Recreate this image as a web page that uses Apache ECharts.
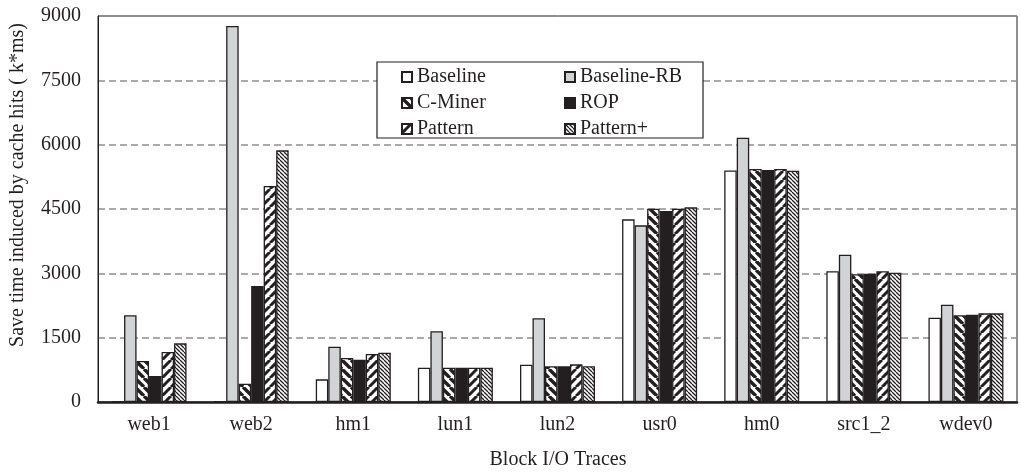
<!DOCTYPE html>
<html>
<head>
<meta charset="utf-8">
<script src="https://cdn.jsdelivr.net/npm/echarts@6/dist/echarts.min.js"></script>
<style>
html,body{margin:0;padding:0;background:#fff;}
#chart{width:1021px;height:473px;}
</style>
</head>
<body>
<div id="chart"></div>
<script>
const categories = ['web1', 'web2', 'hm1', 'lun1', 'lun2', 'usr0', 'hm0', 'src1_2', 'wdev0'];
const baseline    = [15, 15, 528, 800, 870, 4259, 5400, 3047, 1966];
const baselineRB  = [2021, 8767, 1290, 1648, 1951, 4119, 6162, 3435, 2269];
const cMiner      = [956, 427, 1026, 800, 832, 4508, 5431, 2977, 2021];
const rop         = [606, 2705, 987, 800, 832, 4453, 5408, 2992, 2036];
const patternS    = [1166, 5036, 1119, 800, 878, 4508, 5431, 3047, 2067];
const patternPlus = [1368, 5868, 1150, 800, 832, 4539, 5392, 3016, 2067];
const yMin = 0, yMax = 9000, yInterval = 1500;
const yAxisTitle = 'Save time induced by cache hits ( k*ms)';
const xAxisTitle = 'Block I/O Traces';

const INK = '#231f20';
const FONT = 'Liberation Serif';

function stripes(p, lw, dir) {
  const c = document.createElement('canvas');
  c.width = p; c.height = p;
  const g = c.getContext('2d');
  g.fillStyle = '#fff';
  g.fillRect(0, 0, p, p);
  g.strokeStyle = INK;
  g.lineWidth = lw;
  g.beginPath();
  for (let k = -1; k <= 1; k++) {
    if (dir === 'back') { g.moveTo(k * p, 0); g.lineTo(k * p + p, p); }
    else { g.moveTo(k * p, p); g.lineTo(k * p + p, 0); }
  }
  g.stroke();
  return c;
}

const fills = {
  'Baseline': '#ffffff',
  'Baseline-RB': '#d1d3d4',
  'C-Miner': { image: stripes(9, 3.4, 'back'), repeat: 'repeat' },
  'ROP': INK,
  'Pattern': { image: stripes(9, 3.0, 'fwd'), repeat: 'repeat' },
  'Pattern+': { image: stripes(4, 1.3, 'back'), repeat: 'repeat' }
};

const seriesData = [
  ['Baseline', baseline],
  ['Baseline-RB', baselineRB],
  ['C-Miner', cMiner],
  ['ROP', rop],
  ['Pattern', patternS],
  ['Pattern+', patternPlus]
];

const chart = echarts.init(document.getElementById('chart'), null, { renderer: 'canvas' });

const legendText = { fontFamily: FONT, fontSize: 20, color: INK, lineHeight: 20 };

chart.setOption({
  animation: false,
  backgroundColor: '#fff',
  grid: { left: 98, right: 4, top: 16, bottom: 71, show: true, borderColor: INK, borderWidth: 1, containLabel: false },
  legend: [
    { data: ['Baseline', 'C-Miner', 'Pattern'], orient: 'vertical', left: 396, top: 62,
      itemWidth: 10, itemHeight: 10, itemGap: 6, icon: 'rect', textStyle: legendText, z: 10 },
    { data: ['Baseline-RB', 'ROP', 'Pattern+'], orient: 'vertical', left: 559, top: 62,
      itemWidth: 10, itemHeight: 10, itemGap: 6, icon: 'rect', textStyle: legendText, z: 10 }
  ],
  graphic: [
    { type: 'rect', z: 3, shape: { x: 377, y: 62, width: 326, height: 76 },
      style: { fill: '#fff', stroke: INK, lineWidth: 1.2 } },
    { type: 'text', x: 18, y: 185, rotation: Math.PI / 2,
      style: { text: yAxisTitle, fontFamily: FONT, fontSize: 20, fill: INK, align: 'center', verticalAlign: 'middle' } },
    { type: 'text', x: 558, y: 460,
      style: { text: xAxisTitle, fontFamily: FONT, fontSize: 20, fill: INK, align: 'center', verticalAlign: 'middle' } }
  ],
  xAxis: {
    type: 'category',
    data: categories,
    axisLine: { show: true, lineStyle: { color: INK, width: 2.5 } },
    axisTick: { show: false },
    axisLabel: { fontFamily: FONT, fontSize: 20, color: INK, margin: 13 },
    splitLine: { show: false },
    z: 5
  },
  yAxis: {
    type: 'value',
    min: yMin, max: yMax, interval: yInterval,
    axisLine: { show: true, lineStyle: { color: INK, width: 1 } },
    axisTick: { show: false },
    axisLabel: { fontFamily: FONT, fontSize: 20, color: INK, margin: 17, formatter: v => String(v) },
    splitLine: { show: true, lineStyle: { color: '#8f8f8f', width: 1.5, type: [7, 4] } }
  },
  series: seriesData.map(([name, vals]) => ({
    name: name,
    type: 'bar',
    data: vals,
    barWidth: 12.5,
    barGap: '0%',
    z: 2,
    itemStyle: { color: fills[name], borderColor: INK, borderWidth: 1.3 },
    emphasis: { disabled: true }
  }))
});
</script>
</body>
</html>
